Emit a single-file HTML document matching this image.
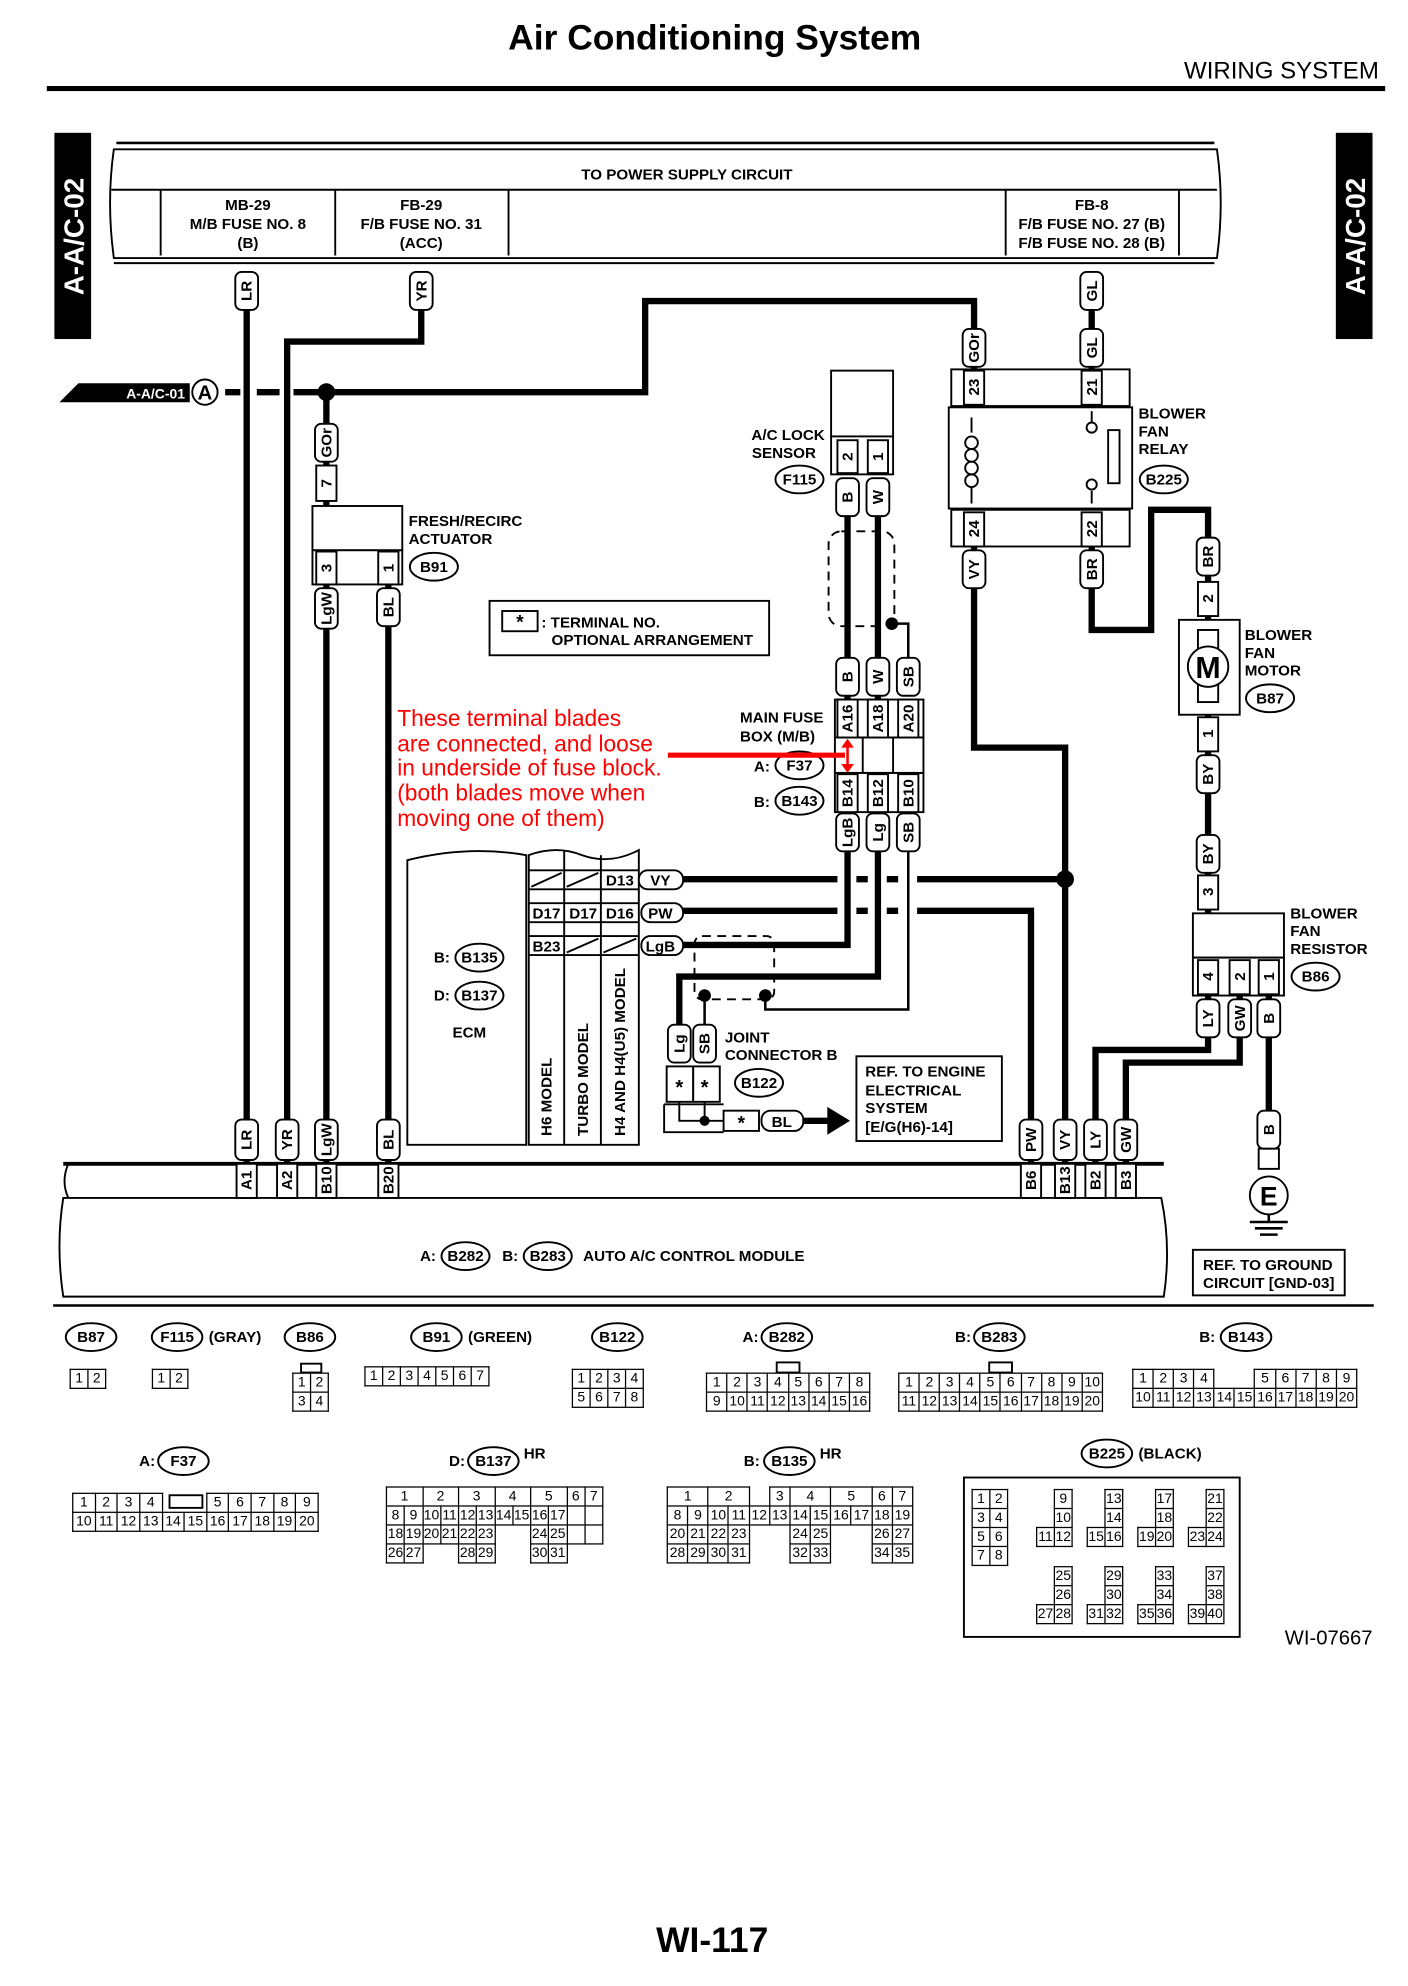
<!DOCTYPE html>
<html><head><meta charset="utf-8">
<style>
html,body{margin:0;padding:0;background:#fff;width:1408px;height:1986px;overflow:hidden}
#w{position:absolute;left:0;top:0;width:1113px;height:1570px;transform:scale(1.265);transform-origin:0 0}
svg{position:absolute;left:0;top:0}
text{font-family:"Liberation Sans",sans-serif;font-weight:bold;font-size:12px;fill:#000}
.w{stroke:#000;stroke-width:5;fill:none}
.t{stroke:#000;stroke-width:2;fill:none}
.b{fill:#fff;stroke:#000;stroke-width:1.5}
.n{fill:none;stroke:#000;stroke-width:1.5}
.c{text-anchor:middle}
table{position:absolute;border-collapse:collapse;font-family:"Liberation Sans",sans-serif;font-size:11px}
td{border:1px solid #000;padding:0;width:13px;height:14px;line-height:14px;text-align:center}
td.g{border:none}
td.h{border-top:none;border-bottom:none}
</style></head><body><div id="w">
<svg width="1113" height="1570" viewBox="0 0 1113 1570">
<text x="565" y="39" class="c" style="font-size:28px">Air Conditioning System</text>
<text x="1090" y="62" style="font-size:19px;font-weight:normal;text-anchor:end">WIRING SYSTEM</text>
<rect x="37" y="68" width="1058" height="4" fill="#000"/>
<rect x="43" y="105" width="29" height="163" fill="#000"/>
<text transform="translate(66,187) rotate(-90)" class="c" style="fill:#fff;font-size:22px">A-A/C-02</text>
<rect x="1056" y="105" width="29" height="163" fill="#000"/>
<text transform="translate(1079,187) rotate(-90)" class="c" style="fill:#fff;font-size:22px">A-A/C-02</text>

<!-- power box -->
<path d="M92 113 H960" class="t"/>
<path d="M90 118 H962 Q968 160 962 204 H90 Q84 160 90 118Z" class="n"/>
<path d="M88 150 H962 M90 208 H960" class="n"/>
<path d="M127 150 V202 M265 150 V202 M402 150 V202 M795 150 V202 M932 150 V202" class="n"/>
<text x="543" y="142" class="c">TO POWER SUPPLY CIRCUIT</text>
<text x="196" y="166" class="c">MB-29</text><text x="196" y="181" class="c">M/B FUSE NO. 8</text><text x="196" y="196" class="c">(B)</text>
<text x="333" y="166" class="c">FB-29</text><text x="333" y="181" class="c">F/B FUSE NO. 31</text><text x="333" y="196" class="c">(ACC)</text>
<text x="863" y="166" class="c">FB-8</text><text x="863" y="181" class="c">F/B FUSE NO. 27 (B)</text><text x="863" y="196" class="c">F/B FUSE NO. 28 (B)</text>

<!-- wires -->
<path class="w" d="M195 245 V920 M333 245 V270 H227 V920 M258 310 V400 M258 462 V920 M307 462 V920
M232 310 H510 V238 H770 V293 M178 310 H190 M203 310 H221 M863 245 V293
M670 400 V553 M694 400 V553 M670 673 V747 H540 M694 673 V772 H537 V810
M770 432 V591 H842 V920 M863 432 V498 H910 V403 H955 V490 M955 565 V722
M955 787 V830 H866 V920 M980 787 V840 H890 V920 M1003 787 V910"/>
<path class="w" d="M540 695 H662 M677 695 H686 M701 695 H710 M725 695 H842 M540 720 H662 M677 720 H686 M701 720 H710 M725 720 H815 V920"/>
<path class="t" d="M705 493 H718 V520 M718 673 V798 H605 V787 M557 787 V810"/>
<circle cx="258" cy="310" r="7"/><circle cx="842" cy="695" r="7"/><circle cx="705" cy="493" r="5"/><circle cx="605" cy="787" r="5"/><circle cx="557" cy="787" r="5"/>
<rect x="655" y="420" width="52" height="75" rx="10" fill="none" stroke="#000" stroke-width="1.5" stroke-dasharray="7,5"/>
<rect x="549" y="740" width="63" height="50" rx="6" fill="none" stroke="#000" stroke-width="1.5" stroke-dasharray="7,5"/>

<!-- A-A/C-01 -->
<path d="M47 318 L62 303 H150 V318Z" fill="#000"/>
<text x="123" y="315" class="c" style="fill:#fff;font-size:11px">A-A/C-01</text>
<circle cx="162" cy="310" r="10" class="b"/><text x="162" y="316" class="c" style="font-size:16px">A</text>

<!-- components -->
<rect x="247" y="400" width="71" height="35" class="b"/><rect x="247" y="435" width="71" height="27" class="b"/>
<rect x="657" y="293" width="49" height="52" class="b"/><rect x="657" y="345" width="49" height="30" class="b"/>
<rect x="750" y="322" width="145" height="80" class="b"/>
<rect x="752" y="292" width="141" height="29" class="n"/><rect x="752" y="403" width="141" height="29" class="n"/>
<path d="M768 330 V342 M768 385 V398 M863 325 V334 M863 388 V398" class="n"/>
<circle cx="768" cy="350" r="5" class="n"/><circle cx="768" cy="360" r="5" class="n"/><circle cx="768" cy="370" r="5" class="n"/><circle cx="768" cy="380" r="5" class="n"/>
<circle cx="863" cy="338" r="4" class="b"/><circle cx="863" cy="383" r="4" class="b"/><rect x="876" y="340" width="9" height="42" class="b"/>
<rect x="932" y="490" width="48" height="75" class="b"/><rect x="947" y="498" width="16" height="15" class="n"/><rect x="947" y="540" width="16" height="15" class="n"/>
<circle cx="955" cy="527" r="16" class="b"/><text x="955" y="536" class="c" style="font-size:24px">M</text>
<rect x="943" y="722" width="72" height="35" class="b"/><rect x="943" y="757" width="72" height="30" class="n"/>
<rect x="660" y="583" width="70" height="28" class="b"/><path d="M682 583 V611 M706 583 V611" class="n"/>
<rect x="660" y="553" width="70" height="30" class="n"/><rect x="660" y="611" width="70" height="31" class="n"/>
<rect x="995" y="908" width="16" height="16" class="b"/>
<circle cx="1003" cy="945" r="15" class="b"/><text x="1003" y="953" class="c" style="font-size:21px">E</text>
<path d="M1003 960 V966 M988 966 H1018 M992 971 H1014 M996 976 H1010" class="t"/>

<!-- component labels -->
<text x="900" y="331">BLOWER</text><text x="900" y="345">FAN</text><text x="900" y="359">RELAY</text>
<ellipse cx="920" cy="379" rx="19" ry="11" class="b"/><text x="920" y="383" class="c">B225</text>
<text x="984" y="506">BLOWER</text><text x="984" y="520">FAN</text><text x="984" y="534">MOTOR</text>
<ellipse cx="1004" cy="552" rx="19" ry="11" class="b"/><text x="1004" y="556" class="c">B87</text>
<text x="1020" y="726">BLOWER</text><text x="1020" y="740">FAN</text><text x="1020" y="754">RESISTOR</text>
<ellipse cx="1040" cy="772" rx="19" ry="11" class="b"/><text x="1040" y="776" class="c">B86</text>
<text x="652" y="348" style="text-anchor:end">A/C LOCK</text><text x="645" y="362" style="text-anchor:end">SENSOR</text>
<ellipse cx="632" cy="379" rx="19" ry="11" class="b"/><text x="632" y="383" class="c">F115</text>
<text x="323" y="416">FRESH/RECIRC</text><text x="323" y="430">ACTUATOR</text>
<ellipse cx="343" cy="448" rx="19" ry="11" class="b"/><text x="343" y="452" class="c">B91</text>
<rect x="387" y="475" width="221" height="43" class="b"/><rect x="397" y="483" width="28" height="16" class="b"/>
<text x="411" y="497" class="c" style="font-size:15px">*</text>
<text x="428" y="496">: TERMINAL NO.</text><text x="436" y="510">OPTIONAL ARRANGEMENT</text>
<text x="585" y="571">MAIN FUSE</text><text x="585" y="586">BOX (M/B)</text>
<text x="596" y="610">A:</text><ellipse cx="632" cy="605" rx="19" ry="11" class="b"/><text x="632" y="609" class="c">F37</text>
<text x="596" y="638">B:</text><ellipse cx="632" cy="633" rx="19" ry="11" class="b"/><text x="632" y="637" class="c">B143</text>

<!-- red note -->
<g style="font-weight:normal;font-size:18px">
<text x="314" y="574" style="fill:#f00;font-weight:normal;font-size:18px">These terminal blades</text>
<text x="314" y="594" style="fill:#f00;font-weight:normal;font-size:18px">are connected, and loose</text>
<text x="314" y="613" style="fill:#f00;font-weight:normal;font-size:18px">in underside of fuse block.</text>
<text x="314" y="633" style="fill:#f00;font-weight:normal;font-size:18px">(both blades move when</text>
<text x="314" y="653" style="fill:#f00;font-weight:normal;font-size:18px">moving one of them)</text></g>
<path d="M528 597 H668" stroke="#f00" stroke-width="4"/>
<path d="M670 590 V605" stroke="#f00" stroke-width="2"/>
<path d="M665 591 L670 584 L675 591Z M665 604 L670 611 L675 604Z" fill="#f00"/>

<!-- ECM -->
<path d="M322 680 Q370 668 416 676 V905 H322Z" class="b"/>
<path d="M418 676 Q440 668 460 676 Q482 684 505 672 V905 H418Z" class="b"/>
<path d="M446 672 V905 M475 676 V905 M418 688 H505 M418 703 H505 M418 714 H505 M418 729 H505 M418 740 H505 M418 755 H505" class="n"/>
<path d="M420 701 L444 690 M448 701 L473 690 M448 753 L473 742 M477 753 L503 742" class="n"/>
<text x="490" y="700" class="c">D13</text><text x="432" y="726" class="c">D17</text><text x="461" y="726" class="c">D17</text><text x="490" y="726" class="c">D16</text><text x="432" y="752" class="c">B23</text>
<text transform="translate(436,898) rotate(-90)">H6 MODEL</text>
<text transform="translate(465,898) rotate(-90)">TURBO MODEL</text>
<text transform="translate(494,898) rotate(-90)">H4 AND H4(U5) MODEL</text>
<text x="343" y="761">B:</text><ellipse cx="379" cy="757" rx="19" ry="11" class="b"/><text x="379" y="761" class="c">B135</text>
<text x="343" y="791">D:</text><ellipse cx="379" cy="787" rx="19" ry="11" class="b"/><text x="379" y="791" class="c">B137</text>
<text x="371" y="820" class="c">ECM</text>
<rect x="505" y="688" width="35" height="15" rx="7" class="b"/><text x="522" y="700" class="c">VY</text>
<rect x="507" y="714" width="33" height="15" rx="7" class="b"/><text x="522" y="726" class="c">PW</text>
<rect x="507" y="740" width="33" height="15" rx="7" class="b"/><text x="522" y="752" class="c">LgB</text>

<!-- joint connector -->
<rect x="527" y="843" width="21" height="28" class="b"/><rect x="548" y="843" width="21" height="28" class="b"/>
<text x="537" y="865" class="c" style="font-size:16px">*</text><text x="557" y="865" class="c" style="font-size:16px">*</text>
<path d="M525 873 V895 H572 M525 873 H572 M537 871 V886 H557 M557 871 V886 H572" class="n"/>
<circle cx="557" cy="886" r="4"/>
<rect x="572" y="878" width="28" height="16" class="b"/><text x="586" y="893" class="c" style="font-size:15px">*</text>
<rect x="602" y="878" width="33" height="16" rx="7" class="b"/><text x="618" y="891" class="c">BL</text>
<path d="M635 886 H655" class="w"/><path d="M654 875 L672 886 L654 897Z"/>
<text x="573" y="824">JOINT</text><text x="573" y="838">CONNECTOR B</text>
<ellipse cx="600" cy="856" rx="19" ry="11" class="b"/><text x="600" y="860" class="c">B122</text>
<rect x="677" y="835" width="115" height="67" class="b"/>
<text x="684" y="851">REF. TO ENGINE</text><text x="684" y="866">ELECTRICAL</text><text x="684" y="880">SYSTEM</text><text x="684" y="895">[E/G(H6)-14]</text>

<!-- module -->
<path d="M50 920 H920" stroke="#000" stroke-width="3"/>
<path d="M50 947 H918 Q926 985 920 1025 H50 Q44 985 50 947Z" class="n"/>
<path d="M54 920 Q48 934 54 947" class="n"/>
<text x="332" y="997">A:</text><ellipse cx="368" cy="993" rx="19" ry="11" class="b"/><text x="368" y="997" class="c">B282</text>
<text x="397" y="997">B:</text><ellipse cx="433" cy="993" rx="19" ry="11" class="b"/><text x="433" y="997" class="c">B283</text>
<text x="461" y="997">AUTO A/C CONTROL MODULE</text>
<rect x="943" y="988" width="120" height="36" class="b"/>
<text x="951" y="1004">REF. TO GROUND</text><text x="951" y="1018">CIRCUIT [GND-03]</text>
<path d="M42 1032 H1086" stroke="#000" stroke-width="2"/>

<!-- wire labels -->
<g>
<rect x="186" y="215" width="18" height="30" rx="5" class="b"/><text transform="translate(195,230) rotate(-90)" class="c" dy="4">LR</text>
<rect x="324" y="215" width="18" height="30" rx="5" class="b"/><text transform="translate(333,230) rotate(-90)" class="c" dy="4">YR</text>
<rect x="854" y="215" width="18" height="30" rx="5" class="b"/><text transform="translate(863,230) rotate(-90)" class="c" dy="4">GL</text>
<rect x="761" y="260" width="18" height="30" rx="5" class="b"/><text transform="translate(770,275) rotate(-90)" class="c" dy="4">GOr</text>
<rect x="854" y="260" width="18" height="30" rx="5" class="b"/><text transform="translate(863,275) rotate(-90)" class="c" dy="4">GL</text>
<rect x="249" y="335" width="18" height="30" rx="5" class="b"/><text transform="translate(258,350) rotate(-90)" class="c" dy="4">GOr</text>
<rect x="249" y="465" width="18" height="32" rx="5" class="b"/><text transform="translate(258,481) rotate(-90)" class="c" dy="4">LgW</text>
<rect x="298" y="465" width="18" height="30" rx="5" class="b"/><text transform="translate(307,480) rotate(-90)" class="c" dy="4">BL</text>
<rect x="661" y="378" width="18" height="30" rx="5" class="b"/><text transform="translate(670,393) rotate(-90)" class="c" dy="4">B</text>
<rect x="685" y="378" width="18" height="30" rx="5" class="b"/><text transform="translate(694,393) rotate(-90)" class="c" dy="4">W</text>
<rect x="661" y="520" width="18" height="30" rx="5" class="b"/><text transform="translate(670,535) rotate(-90)" class="c" dy="4">B</text>
<rect x="685" y="520" width="18" height="30" rx="5" class="b"/><text transform="translate(694,535) rotate(-90)" class="c" dy="4">W</text>
<rect x="709" y="520" width="18" height="30" rx="5" class="b"/><text transform="translate(718,535) rotate(-90)" class="c" dy="4">SB</text>
<rect x="661" y="643" width="18" height="30" rx="5" class="b"/><text transform="translate(670,658) rotate(-90)" class="c" dy="4">LgB</text>
<rect x="685" y="643" width="18" height="30" rx="5" class="b"/><text transform="translate(694,658) rotate(-90)" class="c" dy="4">Lg</text>
<rect x="709" y="643" width="18" height="30" rx="5" class="b"/><text transform="translate(718,658) rotate(-90)" class="c" dy="4">SB</text>
<rect x="761" y="435" width="18" height="30" rx="5" class="b"/><text transform="translate(770,450) rotate(-90)" class="c" dy="4">VY</text>
<rect x="854" y="435" width="18" height="30" rx="5" class="b"/><text transform="translate(863,450) rotate(-90)" class="c" dy="4">BR</text>
<rect x="946" y="425" width="18" height="30" rx="5" class="b"/><text transform="translate(955,440) rotate(-90)" class="c" dy="4">BR</text>
<rect x="946" y="597" width="18" height="30" rx="5" class="b"/><text transform="translate(955,612) rotate(-90)" class="c" dy="4">BY</text>
<rect x="946" y="660" width="18" height="30" rx="5" class="b"/><text transform="translate(955,675) rotate(-90)" class="c" dy="4">BY</text>
<rect x="946" y="790" width="18" height="30" rx="5" class="b"/><text transform="translate(955,805) rotate(-90)" class="c" dy="4">LY</text>
<rect x="971" y="790" width="18" height="30" rx="5" class="b"/><text transform="translate(980,805) rotate(-90)" class="c" dy="4">GW</text>
<rect x="994" y="790" width="18" height="30" rx="5" class="b"/><text transform="translate(1003,805) rotate(-90)" class="c" dy="4">B</text>
<rect x="994" y="878" width="18" height="30" rx="5" class="b"/><text transform="translate(1003,893) rotate(-90)" class="c" dy="4">B</text>
<rect x="528" y="810" width="18" height="30" rx="5" class="b"/><text transform="translate(537,825) rotate(-90)" class="c" dy="4">Lg</text>
<rect x="548" y="810" width="18" height="30" rx="5" class="b"/><text transform="translate(557,825) rotate(-90)" class="c" dy="4">SB</text>
<rect x="186" y="885" width="18" height="32" rx="5" class="b"/><text transform="translate(195,901) rotate(-90)" class="c" dy="4">LR</text>
<rect x="218" y="885" width="18" height="32" rx="5" class="b"/><text transform="translate(227,901) rotate(-90)" class="c" dy="4">YR</text>
<rect x="249" y="885" width="18" height="32" rx="5" class="b"/><text transform="translate(258,901) rotate(-90)" class="c" dy="4">LgW</text>
<rect x="298" y="885" width="18" height="32" rx="5" class="b"/><text transform="translate(307,901) rotate(-90)" class="c" dy="4">BL</text>
<rect x="806" y="885" width="18" height="32" rx="5" class="b"/><text transform="translate(815,901) rotate(-90)" class="c" dy="4">PW</text>
<rect x="833" y="885" width="18" height="32" rx="5" class="b"/><text transform="translate(842,901) rotate(-90)" class="c" dy="4">VY</text>
<rect x="857" y="885" width="18" height="32" rx="5" class="b"/><text transform="translate(866,901) rotate(-90)" class="c" dy="4">LY</text>
<rect x="881" y="885" width="18" height="32" rx="5" class="b"/><text transform="translate(890,901) rotate(-90)" class="c" dy="4">GW</text>
</g>
<!-- pins -->
<g>
<rect x="250" y="368" width="16" height="28" class="b"/><text transform="translate(258,382) rotate(-90)" class="c" dy="4">7</text>
<rect x="250" y="436" width="16" height="26" class="b"/><text transform="translate(258,449) rotate(-90)" class="c" dy="4">3</text>
<rect x="299" y="436" width="16" height="26" class="b"/><text transform="translate(307,449) rotate(-90)" class="c" dy="4">1</text>
<rect x="662" y="348" width="16" height="26" class="b"/><text transform="translate(670,361) rotate(-90)" class="c" dy="4">2</text>
<rect x="686" y="348" width="16" height="26" class="b"/><text transform="translate(694,361) rotate(-90)" class="c" dy="4">1</text>
<rect x="662" y="553" width="16" height="30" class="b"/><text transform="translate(670,568) rotate(-90)" class="c" dy="4">A16</text>
<rect x="686" y="553" width="16" height="30" class="b"/><text transform="translate(694,568) rotate(-90)" class="c" dy="4">A18</text>
<rect x="710" y="553" width="16" height="30" class="b"/><text transform="translate(718,568) rotate(-90)" class="c" dy="4">A20</text>
<rect x="662" y="612" width="16" height="30" class="b"/><text transform="translate(670,627) rotate(-90)" class="c" dy="4">B14</text>
<rect x="686" y="612" width="16" height="30" class="b"/><text transform="translate(694,627) rotate(-90)" class="c" dy="4">B12</text>
<rect x="710" y="612" width="16" height="30" class="b"/><text transform="translate(718,627) rotate(-90)" class="c" dy="4">B10</text>
<rect x="762" y="293" width="16" height="27" class="b"/><text transform="translate(770,306) rotate(-90)" class="c" dy="4">23</text>
<rect x="855" y="293" width="16" height="27" class="b"/><text transform="translate(863,306) rotate(-90)" class="c" dy="4">21</text>
<rect x="762" y="405" width="16" height="27" class="b"/><text transform="translate(770,418) rotate(-90)" class="c" dy="4">24</text>
<rect x="855" y="405" width="16" height="27" class="b"/><text transform="translate(863,418) rotate(-90)" class="c" dy="4">22</text>
<rect x="947" y="460" width="16" height="27" class="b"/><text transform="translate(955,473) rotate(-90)" class="c" dy="4">2</text>
<rect x="947" y="567" width="16" height="27" class="b"/><text transform="translate(955,580) rotate(-90)" class="c" dy="4">1</text>
<rect x="947" y="692" width="16" height="27" class="b"/><text transform="translate(955,705) rotate(-90)" class="c" dy="4">3</text>
<rect x="947" y="759" width="16" height="27" class="b"/><text transform="translate(955,772) rotate(-90)" class="c" dy="4">4</text>
<rect x="972" y="759" width="16" height="27" class="b"/><text transform="translate(980,772) rotate(-90)" class="c" dy="4">2</text>
<rect x="995" y="759" width="16" height="27" class="b"/><text transform="translate(1003,772) rotate(-90)" class="c" dy="4">1</text>
<rect x="187" y="920" width="16" height="27" class="b"/><text transform="translate(195,933) rotate(-90)" class="c" dy="4">A1</text>
<rect x="219" y="920" width="16" height="27" class="b"/><text transform="translate(227,933) rotate(-90)" class="c" dy="4">A2</text>
<rect x="250" y="920" width="16" height="27" class="b"/><text transform="translate(258,933) rotate(-90)" class="c" dy="4">B10</text>
<rect x="299" y="920" width="16" height="27" class="b"/><text transform="translate(307,933) rotate(-90)" class="c" dy="4">B20</text>
<rect x="807" y="920" width="16" height="27" class="b"/><text transform="translate(815,933) rotate(-90)" class="c" dy="4">B6</text>
<rect x="834" y="920" width="16" height="27" class="b"/><text transform="translate(842,933) rotate(-90)" class="c" dy="4">B13</text>
<rect x="858" y="920" width="16" height="27" class="b"/><text transform="translate(866,933) rotate(-90)" class="c" dy="4">B2</text>
<rect x="882" y="920" width="16" height="27" class="b"/><text transform="translate(890,933) rotate(-90)" class="c" dy="4">B3</text>
</g>

<!-- connector headers -->
<ellipse cx="72" cy="1057" rx="20" ry="11" class="b"/><text x="72" y="1061" class="c">B87</text>
<ellipse cx="140" cy="1057" rx="20" ry="11" class="b"/><text x="140" y="1061" class="c">F115</text><text x="165" y="1061">(GRAY)</text>
<ellipse cx="245" cy="1057" rx="20" ry="11" class="b"/><text x="245" y="1061" class="c">B86</text>
<ellipse cx="345" cy="1057" rx="20" ry="11" class="b"/><text x="345" y="1061" class="c">B91</text><text x="370" y="1061">(GREEN)</text>
<ellipse cx="488" cy="1057" rx="20" ry="11" class="b"/><text x="488" y="1061" class="c">B122</text>
<text x="587" y="1061">A:</text><ellipse cx="622" cy="1057" rx="20" ry="11" class="b"/><text x="622" y="1061" class="c">B282</text>
<text x="755" y="1061">B:</text><ellipse cx="790" cy="1057" rx="20" ry="11" class="b"/><text x="790" y="1061" class="c">B283</text>
<text x="948" y="1061">B:</text><ellipse cx="985" cy="1057" rx="20" ry="11" class="b"/><text x="985" y="1061" class="c">B143</text>
<text x="110" y="1159">A:</text><ellipse cx="145" cy="1155" rx="20" ry="11" class="b"/><text x="145" y="1159" class="c">F37</text>
<text x="355" y="1159">D:</text><ellipse cx="390" cy="1155" rx="20" ry="11" class="b"/><text x="390" y="1159" class="c">B137</text><text x="414" y="1153">HR</text>
<text x="588" y="1159">B:</text><ellipse cx="624" cy="1155" rx="20" ry="11" class="b"/><text x="624" y="1159" class="c">B135</text><text x="648" y="1153">HR</text>
<ellipse cx="875" cy="1149" rx="20" ry="11" class="b"/><text x="875" y="1153" class="c">B225</text><text x="900" y="1153">(BLACK)</text>
<rect x="762" y="1168" width="218" height="126" class="n"/>
<rect x="134" y="1182" width="26" height="10" class="n"/>
<rect x="614" y="1077" width="18" height="8" class="n"/><rect x="782" y="1077" width="18" height="8" class="n"/><rect x="238" y="1078" width="16" height="7" class="n"/>
<text x="1085" y="1300" style="font-weight:normal;font-size:16px;text-anchor:end">WI-07667</text>
<text x="563" y="1543" class="c" style="font-size:28px">WI-117</text>
</svg>

<table style="left:55px;top:1082px"><tr><td>1</td><td>2</td></tr></table>
<table style="left:120px;top:1082px"><tr><td style="border-radius:6px">1</td><td>2</td></tr></table>
<table style="left:231px;top:1085px"><tr><td>1</td><td>2</td></tr><tr><td>3</td><td>4</td></tr></table>
<table style="left:288px;top:1080px"><tr><td>1</td><td>2</td><td>3</td><td>4</td><td>5</td><td>6</td><td>7</td></tr></table>
<table style="left:452px;top:1082px"><tr><td>1</td><td>2</td><td>3</td><td>4</td></tr><tr><td>5</td><td>6</td><td>7</td><td>8</td></tr></table>
<table style="left:558px;top:1085px;width:130px"><tr><td>1</td><td>2</td><td>3</td><td>4</td><td>5</td><td>6</td><td>7</td><td>8</td></tr><tr><td>9</td><td>10</td><td>11</td><td>12</td><td>13</td><td>14</td><td>15</td><td>16</td></tr></table>
<table style="left:710px;top:1085px;width:162px"><tr><td>1</td><td>2</td><td>3</td><td>4</td><td>5</td><td>6</td><td>7</td><td>8</td><td>9</td><td>10</td></tr><tr><td>11</td><td>12</td><td>13</td><td>14</td><td>15</td><td>16</td><td>17</td><td>18</td><td>19</td><td>20</td></tr></table>
<table style="left:895px;top:1082px;width:178px"><tr><td>1</td><td>2</td><td>3</td><td>4</td><td class="g"></td><td class="g"></td><td>5</td><td>6</td><td>7</td><td>8</td><td>9</td></tr><tr><td>10</td><td>11</td><td>12</td><td>13</td><td>14</td><td>15</td><td>16</td><td>17</td><td>18</td><td>19</td><td>20</td></tr></table>
<table style="left:57px;top:1180px;width:195px"><tr><td>1</td><td>2</td><td>3</td><td>4</td><td class="g"></td><td class="g"></td><td>5</td><td>6</td><td>7</td><td>8</td><td>9</td></tr><tr><td>10</td><td>11</td><td>12</td><td>13</td><td>14</td><td>15</td><td>16</td><td>17</td><td>18</td><td>19</td><td>20</td></tr></table>
<table style="left:305px;top:1175px;width:172px"><tr><td colspan="2">1</td><td colspan="2">2</td><td colspan="2">3</td><td colspan="2">4</td><td colspan="2">5</td><td>6</td><td>7</td></tr>
<tr><td>8</td><td>9</td><td>10</td><td>11</td><td>12</td><td>13</td><td>14</td><td>15</td><td>16</td><td>17</td><td></td><td></td></tr>
<tr><td>18</td><td>19</td><td>20</td><td>21</td><td>22</td><td>23</td><td class="g"></td><td class="g"></td><td>24</td><td>25</td><td></td><td></td></tr>
<tr><td>26</td><td>27</td><td class="g"></td><td class="g"></td><td>28</td><td>29</td><td class="g"></td><td class="g"></td><td>30</td><td>31</td><td class="g"></td><td class="g"></td></tr></table>
<table style="left:527px;top:1175px;width:195px"><tr><td colspan="2">1</td><td colspan="2">2</td><td class="g"></td><td>3</td><td colspan="2">4</td><td colspan="2">5</td><td>6</td><td>7</td></tr>
<tr><td>8</td><td>9</td><td>10</td><td>11</td><td>12</td><td>13</td><td>14</td><td>15</td><td>16</td><td>17</td><td>18</td><td>19</td></tr>
<tr><td>20</td><td>21</td><td>22</td><td>23</td><td class="g"></td><td class="g"></td><td>24</td><td>25</td><td class="g"></td><td class="g"></td><td>26</td><td>27</td></tr>
<tr><td>28</td><td>29</td><td>30</td><td>31</td><td class="g"></td><td class="g"></td><td>32</td><td>33</td><td class="g"></td><td class="g"></td><td>34</td><td>35</td></tr></table>
<table style="left:768px;top:1177px"><tr><td>1</td><td>2</td></tr><tr><td>3</td><td>4</td></tr><tr><td>5</td><td>6</td></tr><tr><td>7</td><td>8</td></tr></table>
<table style="left:819px;top:1177px"><tr><td class="g"></td><td>9</td></tr><tr><td class="g"></td><td>10</td></tr><tr><td>11</td><td>12</td></tr></table>
<table style="left:859px;top:1177px"><tr><td class="g"></td><td>13</td></tr><tr><td class="g"></td><td>14</td></tr><tr><td>15</td><td>16</td></tr></table>
<table style="left:899px;top:1177px"><tr><td class="g"></td><td>17</td></tr><tr><td class="g"></td><td>18</td></tr><tr><td>19</td><td>20</td></tr></table>
<table style="left:939px;top:1177px"><tr><td class="g"></td><td>21</td></tr><tr><td class="g"></td><td>22</td></tr><tr><td>23</td><td>24</td></tr></table>
<table style="left:819px;top:1238px"><tr><td class="g"></td><td>25</td></tr><tr><td class="g"></td><td>26</td></tr><tr><td>27</td><td>28</td></tr></table>
<table style="left:859px;top:1238px"><tr><td class="g"></td><td>29</td></tr><tr><td class="g"></td><td>30</td></tr><tr><td>31</td><td>32</td></tr></table>
<table style="left:899px;top:1238px"><tr><td class="g"></td><td>33</td></tr><tr><td class="g"></td><td>34</td></tr><tr><td>35</td><td>36</td></tr></table>
<table style="left:939px;top:1238px"><tr><td class="g"></td><td>37</td></tr><tr><td class="g"></td><td>38</td></tr><tr><td>39</td><td>40</td></tr></table>
</div></body></html>
